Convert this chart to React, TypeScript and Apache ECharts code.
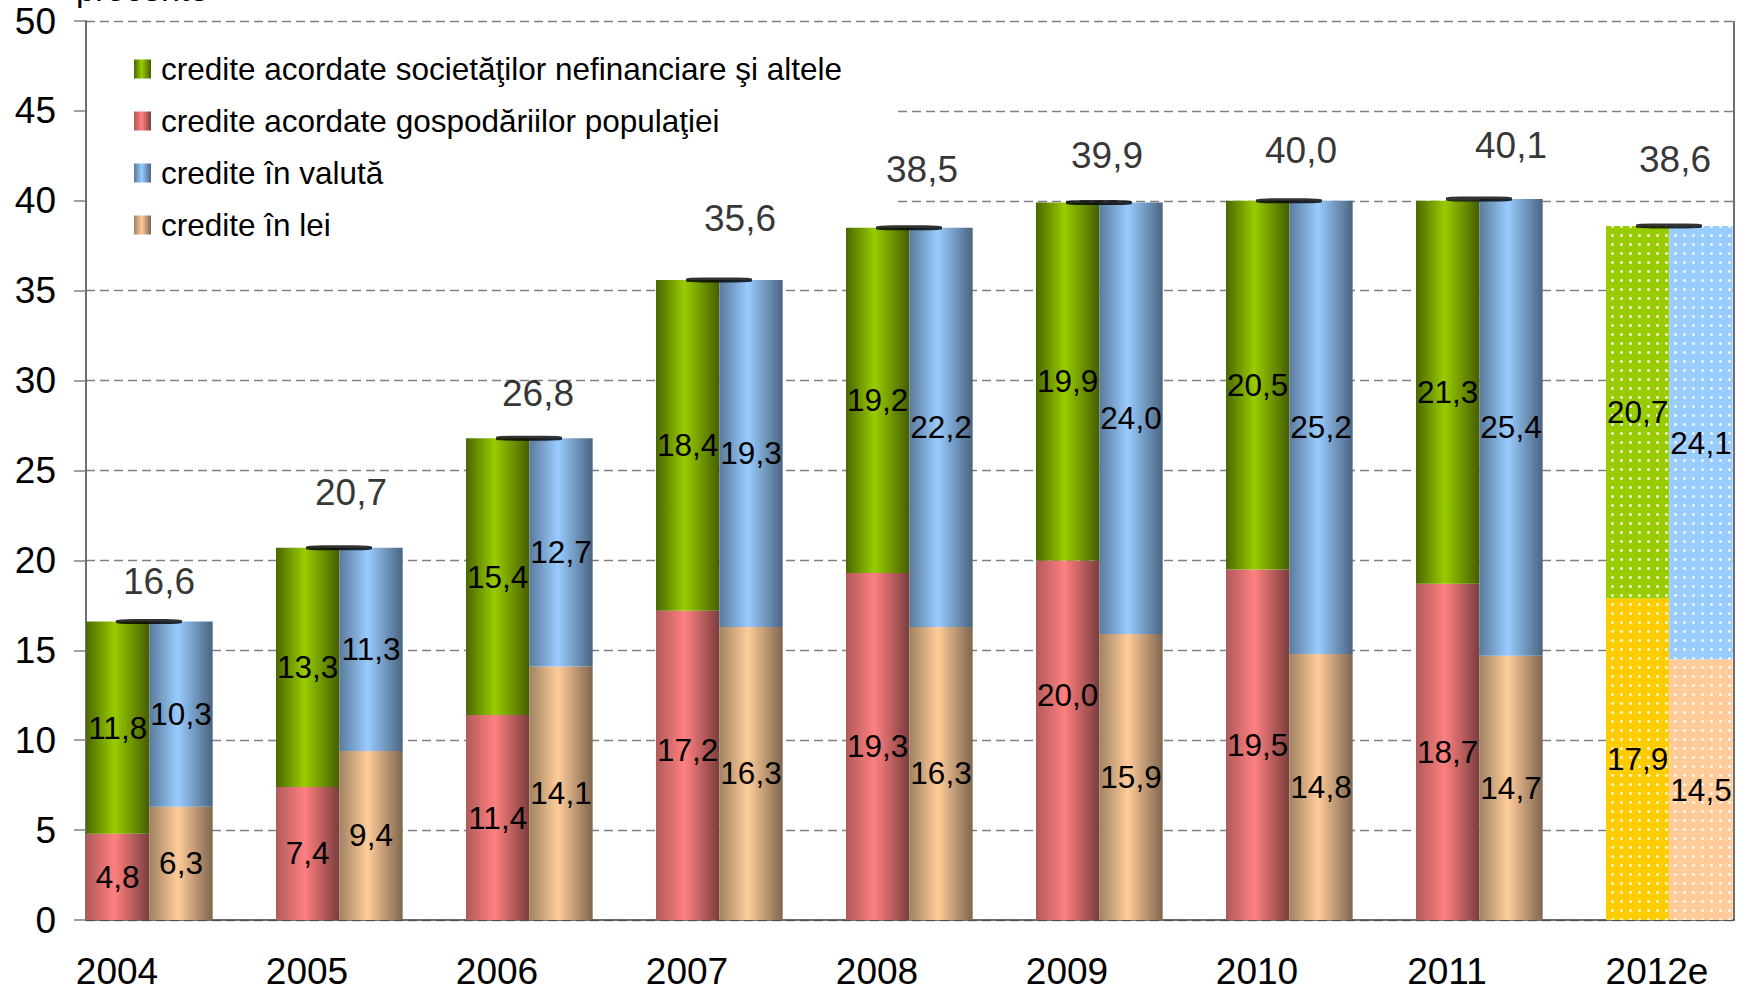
import React, { useEffect, useRef } from 'react';
import * as echarts from 'echarts';

// ---------- data ----------
const years = ['2004', '2005', '2006', '2007', '2008', '2009', '2010', '2011', '2012e'];
const nonFinancial = [11.8, 13.3, 15.4, 18.4, 19.2, 19.9, 20.5, 21.3, 20.7];
const households = [4.8, 7.4, 11.4, 17.2, 19.3, 20.0, 19.5, 18.7, 17.9];
const foreignCurrency = [10.3, 11.3, 12.7, 19.3, 22.2, 24.0, 25.2, 25.4, 24.1];
const localCurrency = [6.3, 9.4, 14.1, 16.3, 16.3, 15.9, 14.8, 14.7, 14.5];
const totals = [16.6, 20.7, 26.8, 35.6, 38.5, 39.9, 40.0, 40.1, 38.6];
const seriesNames = [
  'credite acordate societăţilor nefinanciare şi altele',
  'credite acordate gospodăriilor populaţiei',
  'credite în valută',
  'credite în lei',
];
const estimateYear = '2012e';
const unitLabel = 'procente';

// ---------- styling ----------
const FONT = '"Liberation Sans", Arial, sans-serif';
const fmt = (v: number) => v.toFixed(1).replace('.', ',');
const estIdx = years.indexOf(estimateYear);
// manual nudges of some labels (px), as in the original layout
const householdLabelNudge: Record<number, number> = { 3: -15, 5: -45 };
const totalLabelNudgeX = [0, 2, -1, 11, 3, -2, 2, 22, -4];
const totalLabelNudgeY = [-3, -18, -8, -24, -21, -10, -13, -17, -29];

const grad = (l: string, m: string, r: string) =>
  new echarts.graphic.LinearGradient(0, 0, 1, 0, [
    { offset: 0, color: l },
    { offset: 0.45, color: m },
    { offset: 1, color: r },
  ]);

const decal = {
  symbol: 'circle',
  symbolSize: 1,
  dashArrayX: [2.6, 5.1],
  dashArrayY: [2.6, 5.1],
  color: 'rgba(255,255,255,0.85)',
  rotation: 0,
};

const innerLabel = {
  show: true,
  position: 'inside',
  fontSize: 31.5,
  fontFamily: FONT,
  color: '#000',
  formatter: (p: any) => fmt(p.value),
};

function makeData(vals: number[], flat: string, nudges?: Record<number, number>) {
  return vals.map((v, i) => {
    const item: any = { value: v };
    if (i === estIdx) item.itemStyle = { color: flat, decal };
    if (nudges && nudges[i] !== undefined) item.label = { offset: [0, nudges[i]] };
    return item;
  });
}

export default function App() {
  const ref = useRef<HTMLDivElement>(null);
  useEffect(() => {
    if (!ref.current) return;
    const chart = echarts.init(ref.current, undefined, { renderer: 'svg' });
    const barCommon = { type: 'bar', barGap: '0%', barCategoryGap: '0%', label: innerLabel };
    chart.setOption({
      animation: false,
      backgroundColor: '#fff',
      textStyle: { fontFamily: FONT },
      grid: { left: 86, top: 21, width: 1710, height: 899 },
      legend: {
        orient: 'vertical',
        left: 87,
        top: 27,
        z: 1,
        backgroundColor: '#fff',
        padding: [25, 52, 10, 47],
        itemWidth: 17,
        itemHeight: 19,
        itemGap: 18,
        icon: 'rect',
        selectedMode: false,
        textStyle: { fontSize: 31.5, color: '#000', fontFamily: FONT, lineHeight: 34, padding: [0, 0, 0, 5] },
        data: seriesNames,
      },
      xAxis: {
        type: 'category',
        data: years,
        axisLine: { lineStyle: { color: '#404040', width: 1.5 } },
        axisTick: { length: 12, lineStyle: { color: '#808080', width: 1.5 } },
        axisLabel: {
          interval: 0,
          margin: 33,
          color: '#000',
          fontSize: 37,
          fontFamily: FONT,
          formatter: (v: string) => (v === estimateYear ? `{e|${v}}` : `{n|${v}}`),
          rich: {
            n: { fontSize: 37, fontFamily: FONT, color: '#000', padding: [0, 128, 0, 0] },
            e: { fontSize: 37, fontFamily: FONT, color: '#000', padding: [0, 88, 0, 0] },
          },
        },
      },
      yAxis: {
        type: 'value',
        min: 0,
        max: 50,
        interval: 5,
        axisLine: { show: true, lineStyle: { color: '#404040', width: 1.5 } },
        axisTick: { show: true, length: 12, lineStyle: { color: '#808080', width: 1.5 } },
        axisLabel: { color: '#000', fontSize: 37, fontFamily: FONT, margin: 30 },
        splitLine: { lineStyle: { type: [9, 5], color: '#808080', width: 1.3 } },
      },
      series: [
        {
          ...barCommon,
          name: seriesNames[1],
          stack: 'left',
          itemStyle: { color: grad('#b05a5a', '#ff8080', '#7a3d3d') },
          data: makeData(households, '#ffcc00', householdLabelNudge),
        },
        {
          ...barCommon,
          name: seriesNames[0],
          stack: 'left',
          itemStyle: { color: grad('#4a6800', '#99cc00', '#465e00') },
          data: makeData(nonFinancial, '#99cc00'),
        },
        {
          ...barCommon,
          name: seriesNames[3],
          stack: 'right',
          itemStyle: { color: grad('#a08262', '#ffcc99', '#7f6650') },
          data: makeData(localCurrency, '#ffcc99'),
        },
        {
          ...barCommon,
          name: seriesNames[2],
          stack: 'right',
          itemStyle: { color: grad('#5a7a9c', '#99ccff', '#4a6480') },
          data: makeData(foreignCurrency, '#99ccff'),
        },
        {
          type: 'bar',
          name: 'spacer',
          stack: 'spacer',
          barGap: '0%',
          barCategoryGap: '0%',
          silent: true,
          data: years.map(() => null),
        },
        {
          type: 'scatter',
          name: 'total',
          data: totals.map((v, i) => ({
            value: v,
            label: { offset: [10 + totalLabelNudgeX[i], totalLabelNudgeY[i]] },
          })),
          symbol: 'roundRect',
          symbolSize: [66, 5],
          symbolOffset: [-32, 0],
          itemStyle: { color: '#000' },
          z: 5,
          silent: true,
          label: {
            show: true,
            position: 'top',
            distance: 16,
            fontSize: 37,
            fontFamily: FONT,
            color: '#000',
            formatter: (p: any) => fmt(p.value),
          },
        },
      ],
      graphic: [
        { type: 'rect', shape: { x: 1735, y: 0, width: 100, height: 992 }, style: { fill: '#fff' }, z: 100 },
        {
          type: 'line',
          shape: { x1: 1734, y1: 21, x2: 1734, y2: 920 },
          style: { stroke: '#404040', lineWidth: 1.5 },
          z: 101,
        },
        {
          type: 'text',
          x: 76,
          y: -11,
          style: { text: unitLabel, font: `34px ${FONT}`, fill: '#000', verticalAlign: 'middle' },
          z: 101,
        },
      ],
    });
    return () => chart.dispose();
  }, []);
  return (
    <div
      ref={ref}
      style={{ position: 'fixed', left: 0, top: 0, width: '1810px', height: '992px', background: '#fff' }}
    />
  );
}
